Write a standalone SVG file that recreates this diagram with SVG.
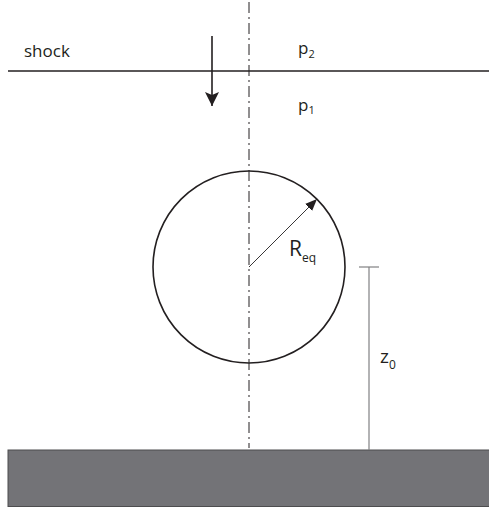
<svg xmlns="http://www.w3.org/2000/svg" width="489" height="508" viewBox="0 0 489 508">
<style>
.t{font-family:"Open Sans","Liberation Sans",sans-serif;fill:#231f20}
.s{font-size:11px}
</style>
<defs>
<marker id="ah" viewBox="0 0 14 14" refX="14" refY="7" markerWidth="14" markerHeight="14" markerUnits="userSpaceOnUse" orient="auto">
<path d="M0,0 L14,7 L0,14 L3,7 Z" fill="#231f20"/>
</marker>
<marker id="ah2" viewBox="0 0 12 10" refX="12" refY="5" markerWidth="12" markerHeight="10" markerUnits="userSpaceOnUse" orient="auto">
<path d="M0,0 L12,5 L0,10 Z" fill="#231f20"/>
</marker>
</defs>
<rect id="ground" x="8" y="450" width="485" height="56.5" fill="#737377" stroke="#4d4d4f" stroke-width="1"/>
<g id="axis"><line x1="249" y1="2" x2="249" y2="448" stroke="#231f20" stroke-width="1" stroke-dasharray="11 4 2 4"/></g>
<g id="shock"><line x1="8" y1="71" x2="489" y2="71" stroke="#231f20" stroke-width="1.6"/>
<text class="t" x="24" y="57" font-size="17">shock</text></g>
<g id="sphere"><circle cx="249" cy="267" r="96" fill="none" stroke="#231f20" stroke-width="1.6"/></g>
<g id="connectors">
<line x1="212" y1="36" x2="212" y2="106" stroke="#231f20" stroke-width="1.6" marker-end="url(#ah)"/>
<line x1="249" y1="267" x2="317" y2="199" stroke="#231f20" stroke-width="0.9" marker-end="url(#ah2)"/>
<line x1="369" y1="267" x2="369" y2="450" stroke="#808083" stroke-width="1.2"/>
<line x1="359" y1="267" x2="379" y2="267" stroke="#808083" stroke-width="1.2"/>
</g>
<g id="labels">
<text class="t" x="298" y="54" font-size="17">p<tspan class="s" dy="4">2</tspan></text>
<text class="t" x="298" y="111" font-size="17">p<tspan class="s" dy="3">1</tspan></text>
<text class="t" x="289" y="256" font-size="21">R<tspan font-size="12" dy="6">eq</tspan></text>
<text class="t" x="380" y="363" font-size="19">z<tspan font-size="12" dy="6">0</tspan></text>
</g>
</svg>
